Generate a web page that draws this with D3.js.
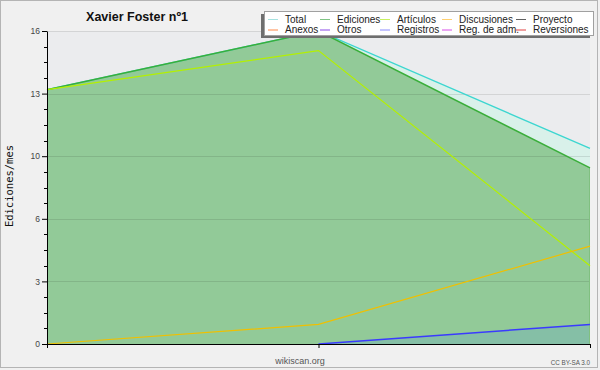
<!DOCTYPE html>
<html>
<head>
<meta charset="utf-8">
<script src="https://cdn.jsdelivr.net/npm/d3@7"></script>
<style>
  body { margin: 0; background: #f0f0f0; }
  svg { display: block; }
</style>
</head>
<body>
<svg></svg>
<script>
const width = 600;
const height = 370;

// data (edits per month, 3 months)
const months = ["m1", "m2", "m3"];
const total = [13, 16, 10];
const ediciones = [13, 16, 9];
const articulos = [13, 15, 4];
const discusiones = [0, 1, 5];
const registros = [null, 0, 1];

const yMax = 16;
const yMajor = [0, 3.2, 6.4, 9.6, 12.8, 16];

const legendNames = [
    ["Total", "Ediciones", "Artículos", "Discusiones", "Proyecto"],
    ["Anexos", "Otros", "Registros", "Reg. de adm.", "Reversiones"]
];
const legendColors = [
    ["#a6e2e0", "#80c484", "#c8f060", "#ffd070", "#606060"],
    ["#ff8848", "#8a48e8", "#8a8aff", "#d84ee8", "#e04040"]
];

let svg = d3.select("svg")
    .attr("width", width)
    .attr("height", height);

svg.append("rect")
    .attr("x", 0.5).attr("y", 0.5)
    .attr("width", width - 3).attr("height", height - 3)
    .attr("fill", "#f0f0f0")
    .attr("stroke", "#b4b4b4");

const plotLeft = 47, plotRight = 590, plotTop = 31, plotBottom = 344;

let x = d3.scalePoint()
    .domain(months)
    .range([plotLeft, plotRight]);

let y = d3.scaleLinear()
    .domain([0, yMax])
    .range([plotBottom, plotTop]);

// plot background
svg.append("rect")
    .attr("x", plotLeft).attr("y", plotTop)
    .attr("width", plotRight - plotLeft).attr("height", plotBottom - plotTop)
    .attr("fill", "#ebecee");

function area(values) {
    return d3.area()
        .defined(d => d != null)
        .x((d, i) => x(months[i]))
        .y0(y(0))
        .y1(d => y(d))(values);
}
function line(values) {
    return d3.line()
        .defined(d => d != null)
        .x((d, i) => x(months[i]))
        .y(d => y(d))(values);
}

svg.append("path").attr("d", area(total)).attr("fill", "#d9f1ea");
svg.append("path").attr("d", area(ediciones)).attr("fill", "#92ca98");
svg.append("path").attr("d", area(registros)).attr("fill", "#85bfa6");

// grid
svg.append("g")
    .selectAll("line")
    .data(yMajor.slice(1))
    .join("line")
    .attr("x1", plotLeft).attr("x2", plotRight)
    .attr("y1", d => Math.round(y(d)) + 0.5)
    .attr("y2", d => Math.round(y(d)) + 0.5)
    .attr("stroke", "#000")
    .attr("stroke-opacity", 0.1);

svg.append("line")
    .attr("x1", plotRight - 0.5).attr("x2", plotRight - 0.5)
    .attr("y1", y(ediciones[2])).attr("y2", plotBottom)
    .attr("stroke", "#80c080");

svg.append("path").attr("d", line(total))
    .attr("fill", "none").attr("stroke", "#3cd6d0").attr("stroke-width", 1.3);
svg.append("path").attr("d", line(ediciones))
    .attr("fill", "none").attr("stroke", "#3aae3a").attr("stroke-width", 1.5);
svg.append("path").attr("d", line(articulos))
    .attr("fill", "none").attr("stroke", "#b4f000").attr("stroke-width", 1.2);
svg.append("path").attr("d", line(discusiones))
    .attr("fill", "none").attr("stroke", "#f0c000").attr("stroke-width", 1.2);
svg.append("path").attr("d", line(registros))
    .attr("fill", "none").attr("stroke", "#3a3aff").attr("stroke-width", 1.5);

// y axis
let yAxis = svg.append("g")
    .attr("transform", `translate(${plotLeft},0)`)
    .call(d3.axisLeft(y)
        .tickValues(yMajor)
        .tickSize(5)
        .tickSizeOuter(0)
        .tickPadding(2)
        .tickFormat(d3.format(".0f")));
yAxis.select(".domain").attr("stroke", "#000");
yAxis.selectAll(".tick line").attr("stroke", "#000");
yAxis.selectAll("text")
    .attr("fill", "#444")
    .style("font-family", "Liberation Sans, Arial, sans-serif")
    .style("font-size", "8.5px");

yAxis.append("g")
    .selectAll("line")
    .data(d3.range(0, yMax, 0.8).filter((d, i) => i % 4 != 0))
    .join("line")
    .attr("x1", -3).attr("x2", 0)
    .attr("y1", d => Math.round(y(d)) + 0.5)
    .attr("y2", d => Math.round(y(d)) + 0.5)
    .attr("stroke", "#000");

// x axis
let xAxis = svg.append("g")
    .attr("transform", `translate(0,${plotBottom})`)
    .call(d3.axisBottom(x).tickSize(4).tickSizeOuter(0).tickFormat(""));
xAxis.select(".domain").attr("stroke", "#000");
xAxis.selectAll(".tick line").attr("stroke", "#000");

// texts
svg.append("text")
    .attr("x", 137).attr("y", 21)
    .attr("text-anchor", "middle")
    .style("font-family", "Liberation Sans, Arial, sans-serif")
    .style("font-weight", "bold")
    .style("font-size", "12.5px")
    .attr("fill", "#111")
    .text("Xavier Foster nº1");

svg.append("text")
    .attr("transform", "translate(13,186) rotate(-90)")
    .attr("text-anchor", "middle")
    .style("font-family", "DejaVu Sans Mono, monospace")
    .style("font-size", "10.5px")
    .attr("fill", "#111")
    .text("Ediciones/mes");

svg.append("text")
    .attr("x", 300).attr("y", 364)
    .attr("text-anchor", "middle")
    .style("font-family", "Liberation Sans, Arial, sans-serif")
    .style("font-size", "9px")
    .attr("fill", "#555")
    .text("wikiscan.org");

svg.append("text")
    .attr("x", 590).attr("y", 365)
    .attr("text-anchor", "end")
    .style("font-family", "Liberation Sans, Arial, sans-serif")
    .style("font-size", "6.3px")
    .attr("fill", "#555")
    .text("CC BY-SA 3.0");

// legend
let legend = svg.append("g");
legend.append("rect")
    .attr("x", 261).attr("y", 14)
    .attr("width", 329).attr("height", 24)
    .attr("fill", "#6e6e6e");
legend.append("rect")
    .attr("x", 264.5).attr("y", 11.5)
    .attr("width", 329).attr("height", 24)
    .attr("fill", "#fff")
    .attr("stroke", "#a0a0a0");

const colX = [268, 320, 380, 442, 516];
legendNames.forEach((row, r) => {
    row.forEach((name, c) => {
        let ly = 19 + r * 10.5;
        legend.append("line")
            .attr("x1", colX[c]).attr("x2", colX[c] + 10)
            .attr("y1", ly + 0.5).attr("y2", ly + 0.5)
            .attr("stroke", legendColors[r][c]);
        legend.append("text")
            .attr("x", colX[c] + 17).attr("y", ly + 3.6)
            .style("font-family", "Liberation Sans, Arial, sans-serif")
            .style("font-size", "10px")
            .attr("fill", "#222")
            .text(name);
    });
});
</script>
</body>
</html>
